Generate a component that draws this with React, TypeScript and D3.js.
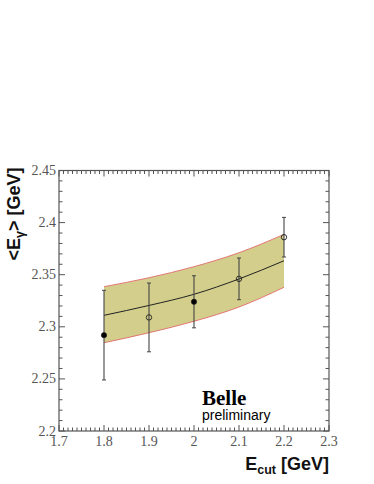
import React from 'react'
import * as d3 from 'd3'

const W = 374
const H = 484

// E_cut points
const ecut = [1.8, 1.9, 2.0, 2.1, 2.2]
// measured <E_gamma>, filled = true / open = false
const meanE = [2.292, 2.309, 2.324, 2.346, 2.386]
const errUp = [0.043, 0.033, 0.025, 0.020, 0.019]
const errDown = [0.043, 0.033, 0.025, 0.020, 0.019]
const filled = [true, false, true, false, false]
// prediction line and band
const predMid = [2.311, 2.3205, 2.3312, 2.3459, 2.3634]
const predHigh = [2.3385, 2.3471, 2.3577, 2.3711, 2.3887]
const predLow = [2.2847, 2.2943, 2.3053, 2.319, 2.3379]

const xTicks = [1.7, 1.8, 1.9, 2.0, 2.1, 2.2, 2.3]
const yTicks = [2.2, 2.25, 2.3, 2.35, 2.4, 2.45]

const App = () => {
  const left = 59
  const right = 329
  const top = 170.5
  const bottom = 431

  const x = d3.scaleLinear().domain([1.7, 2.3]).range([left, right])
  const y = d3.scaleLinear().domain([2.2, 2.45]).range([bottom, top])

  const xMinor = d3.range(1.7, 2.3001, 0.01).map((v) => +v.toFixed(2))
  const yMinor = d3.range(2.2, 2.4501, 0.01).map((v) => +v.toFixed(2))
  const isMajorX = (v) => xTicks.some((t) => Math.abs(t - v) < 1e-6)
  const isMajorY = (v) => yTicks.some((t) => Math.abs(t - v) < 1e-6)

  const band = d3.area()
    .x((d, i) => x(ecut[i]))
    .y0((d, i) => y(predLow[i]))
    .y1((d, i) => y(predHigh[i]))
    .curve(d3.curveMonotoneX)
  const edge = d3.line()
    .x((d, i) => x(ecut[i]))
    .y((d) => y(d))
    .curve(d3.curveMonotoneX)

  const axisCol = '#555'
  const lblCol = '#555'
  const major = 6
  const minor = 3.5

  return (
    <svg width={W} height={H} style={{ position: 'absolute', left: 0, top: 0, background: '#fff' }}>
      {/* band */}
      <path d={band(ecut)} fill="#d3ce8b" stroke="none" />
      <path d={edge(predHigh)} fill="none" stroke="#e06a6a" strokeWidth={0.9} />
      <path d={edge(predLow)} fill="none" stroke="#e06a6a" strokeWidth={0.9} />
      <path d={edge(predMid)} fill="none" stroke="#222" strokeWidth={1} />

      {/* error bars + points */}
      {ecut.map((e, i) => (
        <g key={e}>
          <line x1={x(e)} x2={x(e)} y1={y(meanE[i] + errUp[i])} y2={y(meanE[i] - errDown[i])} stroke="#444" strokeWidth={1.1} />
          <line x1={x(e) - 2} x2={x(e) + 2} y1={y(meanE[i] + errUp[i])} y2={y(meanE[i] + errUp[i])} stroke="#444" strokeWidth={1} />
          <line x1={x(e) - 2} x2={x(e) + 2} y1={y(meanE[i] - errDown[i])} y2={y(meanE[i] - errDown[i])} stroke="#444" strokeWidth={1} />
          <circle cx={x(e)} cy={y(meanE[i])} r={2.7}
            fill={filled[i] ? '#000' : 'none'} stroke="#222" strokeWidth={filled[i] ? 0.5 : 0.9} />
        </g>
      ))}

      {/* frame */}
      <rect x={left} y={top} width={right - left} height={bottom - top} fill="none" stroke={axisCol} strokeWidth={1.2} />
      {xMinor.map((v) => {
        const len = isMajorX(v) ? major : minor
        return (
          <g key={'x' + v}>
            <line x1={x(v)} x2={x(v)} y1={bottom} y2={bottom - len} stroke={axisCol} strokeWidth={1} />
            <line x1={x(v)} x2={x(v)} y1={top} y2={top + len} stroke={axisCol} strokeWidth={1} />
          </g>
        )
      })}
      {yMinor.map((v) => {
        const len = isMajorY(v) ? major : minor
        return (
          <g key={'y' + v}>
            <line x1={left} x2={left + len} y1={y(v)} y2={y(v)} stroke={axisCol} strokeWidth={1} />
            <line x1={right} x2={right - len} y1={y(v)} y2={y(v)} stroke={axisCol} strokeWidth={1} />
          </g>
        )
      })}

      {/* tick labels */}
      <g fontFamily="'Liberation Serif', 'DejaVu Serif', serif" fontSize={14} fill={lblCol}>
        {xTicks.map((t) => (
          <text key={t} x={x(t)} y={bottom + 14.5} textAnchor="middle">{d3.format('~g')(t)}</text>
        ))}
        {yTicks.map((t) => (
          <text key={t} x={left - 3} y={y(t) + 4.5} textAnchor="end">{d3.format('~g')(t)}</text>
        ))}
      </g>

      {/* axis titles */}
      <text x={right} y={470} textAnchor="end" fontFamily="'Liberation Sans', Arial, sans-serif" fontWeight="bold" fontSize={18} fill="#111">
        E<tspan fontSize={12.5} dy={4}>cut</tspan><tspan dy={-4}> [GeV]</tspan>
      </text>
      <text transform={`translate(20, 214) rotate(-90)`} textAnchor="middle"
        fontFamily="'Liberation Sans', Arial, sans-serif" fontWeight="bold" fontSize={18} fill="#111">
        {'<E'}<tspan fontSize={12.5} dy={4}>γ</tspan><tspan dy={-4}>{'> [GeV]'}</tspan>
      </text>

      {/* label */}
      <text x={202} y={405} fontFamily="'Liberation Serif', 'DejaVu Serif', serif" fontWeight="bold" fontSize={21} fill="#000">Belle</text>
      <text x={202} y={420} fontFamily="'Liberation Sans', Arial, sans-serif" fontSize={14} fill="#000">preliminary</text>
    </svg>
  )
}

export default App
